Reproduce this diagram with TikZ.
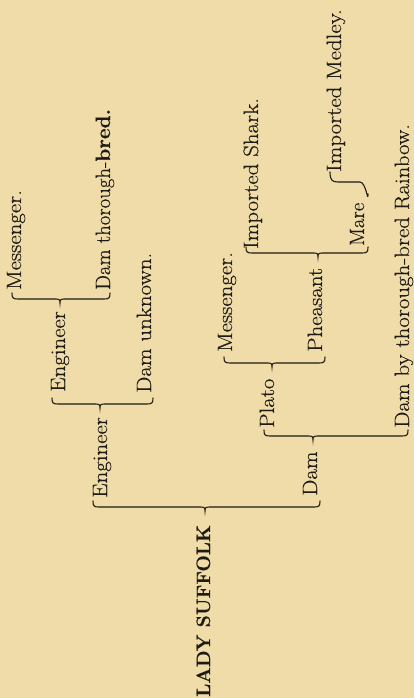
\documentclass[tikz,border=0pt]{standalone}
\usepackage{fontspec}
\newfontfamily\oldf{Latin Modern Roman}[FakeStretch=1.1, FakeBold=0.3]
\newfontfamily\oldn{Latin Modern Roman}[FakeBold=0.3]
\definecolor{paper}{RGB}{239,220,168}
\definecolor{ink}{RGB}{30,26,20}
\newcommand{\pbrace}[5]{%
 \coordinate (#1L) at (#2,#5);
 \coordinate (#1R) at (#3,#5);
 \coordinate (#1T) at (#4,#5);
 \draw[bracestyle] ([yshift=6pt]#1L) .. controls ([yshift=1pt]#1L) and ([xshift=1pt]#1L) .. ([xshift=6pt]#1L)
   -- ([xshift=-6pt]#1T) .. controls ([xshift=-1pt]#1T) and (#1T) .. ([yshift=-4pt]#1T)
   .. controls (#1T) and ([xshift=1pt]#1T) .. ([xshift=6pt]#1T)
   -- ([xshift=-6pt]#1R) .. controls ([xshift=-1pt]#1R) and ([yshift=1pt]#1R) .. ([yshift=6pt]#1R);
}
\begin{document}
\begin{tikzpicture}[x=1pt,y=-1pt,
  lbl/.style={rotate=90, anchor=base west, inner sep=0pt, text=ink,
    font=\oldf\fontsize{20.8}{24}\selectfont},
  lbln/.style={lbl, font=\oldn\fontsize{20.8}{24}\selectfont},
  bracestyle/.style={draw=ink, line width=1.1pt, line cap=round}]
\fill[paper] (0,0) rectangle (414,698);
\useasboundingbox (0,0) rectangle (414,698);
% names
\node[lbl, font=\oldn\fontsize{19.4}{24}\selectfont\bfseries] (suffolk) at (210,697) {LADY SUFFOLK};
\node[lbl] (eng1) at (107,498) {Engineer};
\node[lbl] (dam1) at (317,496) {Dam};
\node[lbl] (eng2) at (65,392) {Engineer};
\node[lbl] (damunk) at (151,393) {Dam unknown.};
\node[lbl] (mess1) at (21,290) {Messenger.};
\node[lbln] (damtb) at (110,290) {Dam thorough-\textbf{bred.}};
\node[lbl] (plato) at (274,428) {Plato};
\node[lbl] (damrain) at (409,428) {Dam by thorough-bred Rainbow.};
\node[lbl] (mess2) at (232,352) {Messenger.};
\node[lbl] (pheas) at (322,352) {Pheasant};
\node[lbl] (shark) at (258,249) {Imported Shark.};
\node[lbln] (mare) at (364,246) {Mare};
\node[lbl] (medley) at (341,172) {Imported Medley.};
% braces
\pbrace{bS}{93}{320}{205}{507}
\pbrace{bEa}{52}{153}{100}{404}
\pbrace{bEb}{12}{110}{60}{299}
\pbrace{bD}{264}{408}{313}{436}
\pbrace{bP}{224}{325}{272}{363}
\pbrace{bPh}{246}{368}{318}{253}
% half brace Mare -> Imported Medley
\coordinate (mareS) at (368,194);
\coordinate (medE) at (330,172);
\draw[bracestyle] (mareS) .. controls ([yshift=-10pt]mareS) and (366,182) .. (360,182)
  -- (338,182) .. controls (332,182) and ([yshift=-8pt]medE) .. (medE);
\end{tikzpicture}
\end{document}
